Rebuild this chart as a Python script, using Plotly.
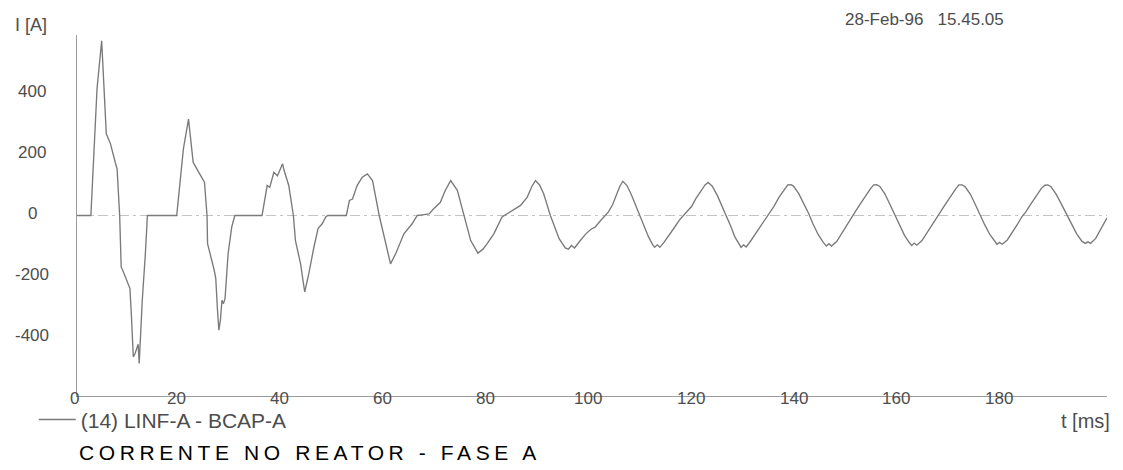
import plotly.graph_objects as go

# Reactor current, phase A: time in ms, current in A
t_ms = [
    0, 2.7, 3.9, 4.8, 5.7, 6.5, 7.5, 7.8, 8.3, 8.6, 8.9, 9.8, 10.3, 10.6, 10.95,
    11.3, 11.9, 12.1, 12.7, 13.3, 13.7, 19.4, 20.7, 21.7, 22.6, 23.7, 24.8, 25.3,
    25.4, 26.7, 27.0, 27.3, 27.6, 27.9, 28.2, 28.5, 28.8, 29.4, 30.1, 30.7, 36.0,
    37.0, 37.5, 38.3, 39.0, 40.0, 40.3, 41.2, 42.1, 42.5, 43.5, 44.3, 45.1, 46.1,
    46.9, 47.7, 48.4, 48.8, 52.4, 53.0, 53.6, 54.5, 55.5, 56.5, 57.5, 58.8, 60.0,
    61.0, 62.0, 63.6, 65.2, 66.2, 67.2, 68.5, 69.4, 70.7, 71.6, 72.7, 74.0, 75.3,
    76.6, 78.0, 79.0, 79.8, 81.1, 82.7, 84.3, 86.3, 87.6, 88.5, 89.2, 90.0, 90.8,
    92.1, 93.0, 93.8, 95.0, 95.6, 96.2, 96.8, 98.0, 99.0, 100.0, 100.8, 101.8,
    102.6, 103.4, 104.2, 105.0, 105.6, 106.2,
    107.0, 107.8, 108.8, 109.6, 110.4, 111.2, 112.0, 112.4, 112.9, 113.4, 114.2,
    115.2, 116.2, 117.2, 118.0, 118.8, 119.6, 120.4, 121.4, 122.2, 122.8,
    123.6, 124.6, 125.6, 126.4, 127.2, 128.0, 128.8, 129.2, 129.7, 130.2, 131.0,
    132.0, 133.0, 134.0, 134.8, 135.6, 136.6, 137.6, 138.3, 138.9, 139.4,
    140.4, 141.4, 142.4, 143.2, 144.2, 145.2, 145.8, 146.3, 146.8, 147.8, 148.8,
    149.8, 150.6, 151.4, 152.4, 153.4, 154.4, 155.0, 155.6, 156.2,
    157.2, 158.2, 159.0, 160.0, 161.0, 162.0, 162.4, 162.9, 163.4, 164.4, 165.4,
    166.4, 167.2, 168.0, 169.0, 170.0, 171.0, 171.6, 172.2, 172.8,
    173.8, 174.8, 175.6, 176.6, 177.6, 178.6, 179.0, 179.5, 180.0, 181.0, 182.0,
    183.0, 183.8, 184.6, 185.6, 186.6, 187.6, 188.3, 188.9, 189.5,
    190.5, 191.5, 192.5, 193.5, 194.5, 195.5, 196.2, 196.7, 197.2, 198.2, 199.2,
    200.0, 200.4,
]
i_amp = [
    0, 0, 415, 571, 267, 235, 170, 153, 0, -169, -179, -217, -239, -332, -462,
    -451, -421, -484, -277, -125, 0, 0, 218, 315, 174, 141, 109, 0,
    -92, -179, -206, -299, -375, -343, -277, -288, -272, -125, -38, 0, 0,
    98, 92, 141, 130, 169, 147, 98, 0, -82, -158, -250, -190, -103,
    -43, -27, -5, 0, 0, 49, 54, 98, 125, 136, 114, 0, -92,
    -158, -125, -60, -27, 0, 2, 5, 22, 43, 80, 114, 82, 0,
    -82, -123, -110, -92, -60, -5, 11, 33, 60, 95, 114, 100, 71,
    0, -40, -76, -106, -110, -98, -106, -80, -60, -45, -38, -18,
    -2, 12, 35, 70, 95, 112,
    98, 70, 30, 0, -35, -70, -95, -104, -96, -104, -88,
    -62, -40, -15, 0, 18, 30, 55, 80, 100, 108,
    96, 65, 28, 0, -35, -70, -95, -104, -96, -103, -85,
    -60, -35, -8, 8, 30, 60, 85, 100, 101, 96,
    72, 38, 5, -28, -62, -88, -100, -92, -100, -85, -58,
    -30, -5, 12, 38, 65, 88, 100, 101, 95,
    70, 35, 5, -30, -65, -90, -98, -90, -97, -82, -55,
    -28, -5, 12, 38, 65, 88, 100, 100, 94,
    70, 35, 5, -30, -62, -88, -94, -88, -94, -80, -55,
    -28, -5, 12, 38, 65, 88, 99, 100, 94,
    70, 38, 5, -28, -60, -84, -91, -86, -91, -75, -45,
    -20, -8,
]

x_ticks = [0, 20, 40, 60, 80, 100, 120, 140, 160, 180]
y_ticks = [400, 200, 0, -200, -400]

X_MAX = 200.4
Y_LIM = 590

series_name = "(14) LINF-A - BCAP-A"
chart_title = "CORRENTE NO REATOR - FASE A"
stamp = "28-Feb-96\u00a0\u00a0\u00a015.45.05"

FONT = "Liberation Sans, Arial, sans-serif"
GREY_TXT = "#4d4d4d"

fig = go.Figure()
fig.add_trace(go.Scatter(
    x=t_ms, y=i_amp, mode="lines", name=series_name,
    line=dict(color="#7a7a7a", width=1.35),
))

# dash-dot reference line at zero current
fig.add_shape(type="line", xref="x", yref="y", x0=0, x1=X_MAX, y0=0, y1=0,
              line=dict(color="#c4c4c4", width=1, dash="10px,4px,3px,4px"),
              layer="below")

annotations = []
for v in x_ticks:
    annotations.append(dict(x=v, y=-Y_LIM, xref="x", yref="y", text=str(v),
                            showarrow=False, xanchor="center", yanchor="middle",
                            xshift=-3, yshift=-2,
                            font=dict(family=FONT, size=17, color=GREY_TXT)))
for v in y_ticks:
    annotations.append(dict(x=0, y=v, xref="paper", yref="y", text=str(v),
                            showarrow=False, xanchor="center", yanchor="middle",
                            xshift=-45, yshift=2,
                            font=dict(family=FONT, size=17, color=GREY_TXT)))
# y caption above the axis, time caption at the right end of the x axis
annotations.append(dict(x=0, y=1, xref="paper", yref="paper",
                        text="I [A]", showarrow=False, xanchor="left", yanchor="middle",
                        xshift=-64, yshift=10,
                        font=dict(family=FONT, size=18, color=GREY_TXT)))
annotations.append(dict(x=1, y=-Y_LIM, xref="paper", yref="y", text="t [ms]",
                        showarrow=False, xanchor="center", yanchor="middle",
                        xshift=-22, yshift=-25,
                        font=dict(family=FONT, size=20, color=GREY_TXT)))
# recording time stamp, top right
annotations.append(dict(x=1, y=1, xref="paper", yref="paper",
                        text=stamp, showarrow=False, xanchor="left", yanchor="middle",
                        xshift=-264, yshift=16,
                        font=dict(family=FONT, size=17, color=GREY_TXT)))

fig.update_layout(
    width=1123, height=470,
    margin=dict(l=77, r=16, t=35, b=74),
    paper_bgcolor="white", plot_bgcolor="white",
    xaxis=dict(range=[0, X_MAX], showline=True, linecolor="#9c9c9c", linewidth=1.2,
               showgrid=False, zeroline=False, showticklabels=False, ticks=""),
    yaxis=dict(range=[-Y_LIM, Y_LIM], showline=True, linecolor="#9c9c9c", linewidth=1.2,
               showgrid=False, zeroline=False, showticklabels=False, ticks=""),
    showlegend=True,
    legend=dict(x=-0.042, y=-0.066, xanchor="left", yanchor="middle",
                bgcolor="rgba(0,0,0,0)", itemwidth=37,
                font=dict(family=FONT, size=21, color=GREY_TXT)),
    title=dict(text=chart_title, xref="container", yref="container",
               x=79 / 1123, xanchor="left", y=1 - 453 / 470, yanchor="middle",
               font=dict(family=FONT, size=21, color="#000000")),
    annotations=annotations,
)

spacing_js = (
    "document.querySelectorAll('.gtitle').forEach(function(el){"
    "el.style.letterSpacing='4.6px';});"
)
fig.write_html("out.html", post_script=spacing_js)
